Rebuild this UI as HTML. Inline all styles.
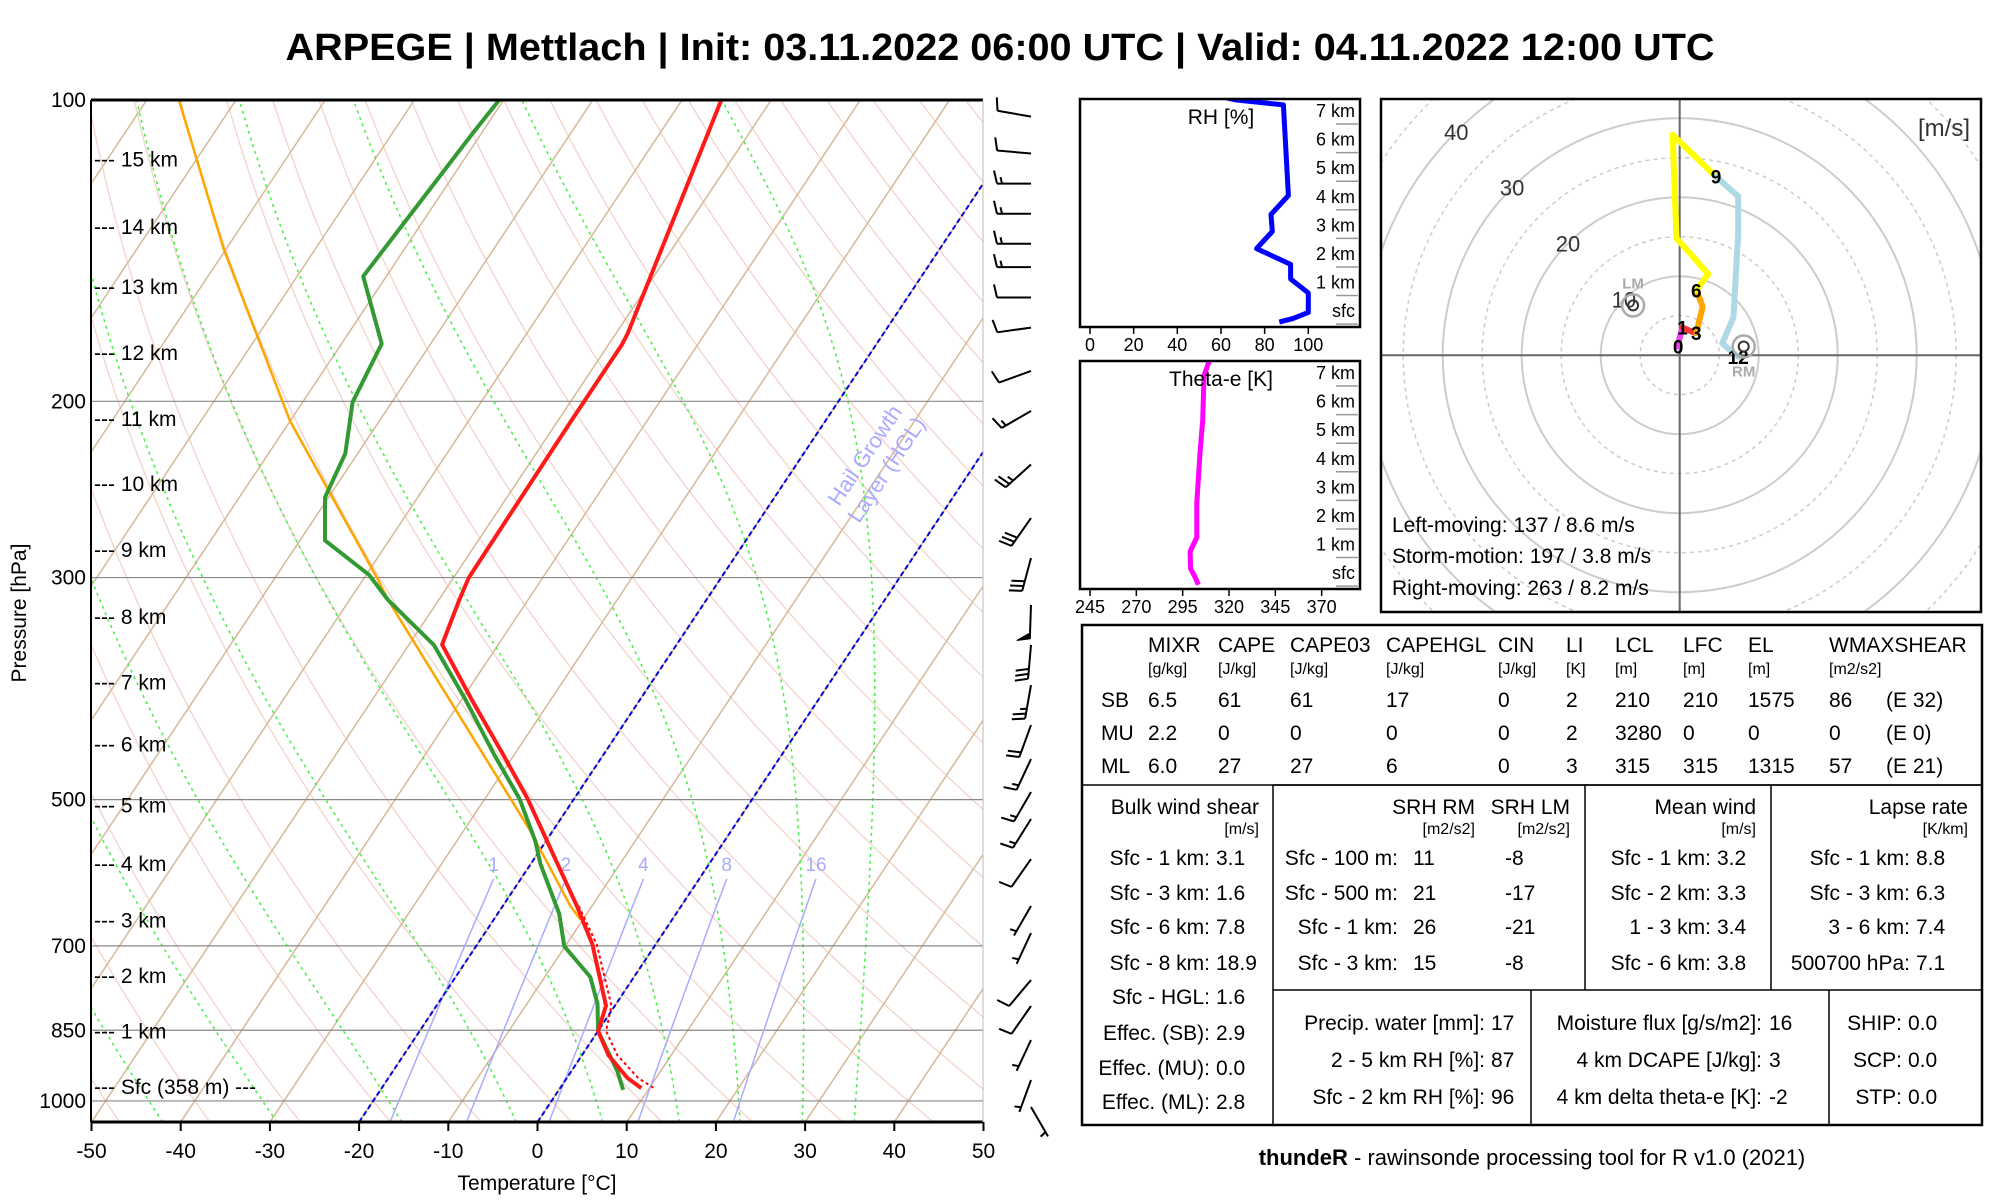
<!DOCTYPE html>
<html><head><meta charset="utf-8"><style>
html,body{margin:0;padding:0;background:#fff;}
svg{display:block;font-family:"Liberation Sans",sans-serif;}
</style></head><body>
<svg id="root" width="2000" height="1200" viewBox="0 0 2000 1200" xmlns="http://www.w3.org/2000/svg">
<defs>
<clipPath id="skclip"><rect x="91" y="100" width="892" height="1022"/></clipPath>
<clipPath id="hodoclip"><rect x="1381" y="99" width="600" height="513"/></clipPath>
<clipPath id="rhclip"><rect x="1080" y="99" width="280" height="228"/></clipPath>
<clipPath id="thclip"><rect x="1080" y="361" width="280" height="228"/></clipPath>
</defs>
<text x="1000" y="60" text-anchor="middle" font-size="38" font-weight="bold" textLength="1429" lengthAdjust="spacingAndGlyphs">ARPEGE | Mettlach | Init: 03.11.2022 06:00 UTC | Valid: 04.11.2022 12:00 UTC</text>
<g id="skew">
  <g id="bg" clip-path="url(#skclip)"></g>
  <g id="prof" clip-path="url(#skclip)"></g>
  <g id="skaxes"></g>
</g>
<g id="barbs"></g>
<g id="rhpanel"></g>
<g id="thpanel"></g>
<g id="hodo"></g>
<g id="tables" font-size="21">
  <rect x="1082" y="625" width="900" height="500" fill="none" stroke="#000" stroke-width="2.5"/>
  <line x1="1082" y1="785" x2="1982" y2="785" stroke="#000" stroke-width="1.5"/>
  <line x1="1273" y1="785" x2="1982" y2="785" stroke="#000" stroke-width="1.5"/>
  <line x1="1273" y1="990" x2="1982" y2="990" stroke="#000" stroke-width="1.5"/>
  <line x1="1273" y1="785" x2="1273" y2="1125" stroke="#000" stroke-width="1.5"/>
  <line x1="1585" y1="785" x2="1585" y2="990" stroke="#000" stroke-width="1.5"/>
  <line x1="1771" y1="785" x2="1771" y2="990" stroke="#000" stroke-width="1.5"/>
  <line x1="1531" y1="990" x2="1531" y2="1125" stroke="#000" stroke-width="1.5"/>
  <line x1="1829" y1="990" x2="1829" y2="1125" stroke="#000" stroke-width="1.5"/>
  <g>
    <text x="1148" y="652">MIXR</text><text x="1218" y="652">CAPE</text><text x="1290" y="652">CAPE03</text><text x="1386" y="652">CAPEHGL</text><text x="1498" y="652">CIN</text><text x="1566" y="652">LI</text><text x="1615" y="652">LCL</text><text x="1683" y="652">LFC</text><text x="1748" y="652">EL</text><text x="1829" y="652">WMAXSHEAR</text>
    <g font-size="16"><text x="1148" y="674">[g/kg]</text><text x="1218" y="674">[J/kg]</text><text x="1290" y="674">[J/kg]</text><text x="1386" y="674">[J/kg]</text><text x="1498" y="674">[J/kg]</text><text x="1566" y="674">[K]</text><text x="1615" y="674">[m]</text><text x="1683" y="674">[m]</text><text x="1748" y="674">[m]</text><text x="1829" y="674">[m2/s2]</text></g>
  </g>
  <g><text x="1101" y="707">SB</text><text x="1148" y="707">6.5</text><text x="1218" y="707">61</text><text x="1290" y="707">61</text><text x="1386" y="707">17</text><text x="1498" y="707">0</text><text x="1566" y="707">2</text><text x="1615" y="707">210</text><text x="1683" y="707">210</text><text x="1748" y="707">1575</text><text x="1829" y="707">86</text><text x="1886" y="707">(E 32)</text></g>
  <g><text x="1101" y="740">MU</text><text x="1148" y="740">2.2</text><text x="1218" y="740">0</text><text x="1290" y="740">0</text><text x="1386" y="740">0</text><text x="1498" y="740">0</text><text x="1566" y="740">2</text><text x="1615" y="740">3280</text><text x="1683" y="740">0</text><text x="1748" y="740">0</text><text x="1829" y="740">0</text><text x="1886" y="740">(E 0)</text></g>
  <g><text x="1101" y="773">ML</text><text x="1148" y="773">6.0</text><text x="1218" y="773">27</text><text x="1290" y="773">27</text><text x="1386" y="773">6</text><text x="1498" y="773">0</text><text x="1566" y="773">3</text><text x="1615" y="773">315</text><text x="1683" y="773">315</text><text x="1748" y="773">1315</text><text x="1829" y="773">57</text><text x="1886" y="773">(E 21)</text></g>
  <g>
    <text x="1259" y="814" text-anchor="end">Bulk wind shear</text><text x="1259" y="834" text-anchor="end" font-size="16">[m/s]</text>
    <g text-anchor="end"><text x="1210" y="865">Sfc - 1 km:</text><text x="1210" y="900">Sfc - 3 km:</text><text x="1210" y="934">Sfc - 6 km:</text><text x="1210" y="970">Sfc - 8 km:</text><text x="1210" y="1004">Sfc - HGL:</text><text x="1210" y="1040">Effec. (SB):</text><text x="1210" y="1075">Effec. (MU):</text><text x="1210" y="1109">Effec. (ML):</text></g>
    <text x="1216" y="865">3.1</text><text x="1216" y="900">1.6</text><text x="1216" y="934">7.8</text><text x="1216" y="970">18.9</text><text x="1216" y="1004">1.6</text><text x="1216" y="1040">2.9</text><text x="1216" y="1075">0.0</text><text x="1216" y="1109">2.8</text>
  </g>
  <g>
    <text x="1475" y="814" text-anchor="end">SRH RM</text><text x="1570" y="814" text-anchor="end">SRH LM</text>
    <text x="1475" y="834" text-anchor="end" font-size="16">[m2/s2]</text><text x="1570" y="834" text-anchor="end" font-size="16">[m2/s2]</text>
    <g text-anchor="end"><text x="1398" y="865">Sfc - 100 m:</text><text x="1398" y="900">Sfc - 500 m:</text><text x="1398" y="934">Sfc - 1 km:</text><text x="1398" y="970">Sfc - 3 km:</text></g>
    <text x="1413" y="865">11</text><text x="1413" y="900">21</text><text x="1413" y="934">26</text><text x="1413" y="970">15</text>
    <text x="1505" y="865">-8</text><text x="1505" y="900">-17</text><text x="1505" y="934">-21</text><text x="1505" y="970">-8</text>
  </g>
  <g>
    <text x="1756" y="814" text-anchor="end">Mean wind</text><text x="1756" y="834" text-anchor="end" font-size="16">[m/s]</text>
    <g text-anchor="end"><text x="1711" y="865">Sfc - 1 km:</text><text x="1711" y="900">Sfc - 2 km:</text><text x="1711" y="934">1 - 3 km:</text><text x="1711" y="970">Sfc - 6 km:</text></g>
    <text x="1717" y="865">3.2</text><text x="1717" y="900">3.3</text><text x="1717" y="934">3.4</text><text x="1717" y="970">3.8</text>
  </g>
  <g>
    <text x="1968" y="814" text-anchor="end">Lapse rate</text><text x="1968" y="834" text-anchor="end" font-size="16">[K/km]</text>
    <g text-anchor="end"><text x="1910" y="865">Sfc - 1 km:</text><text x="1910" y="900">Sfc - 3 km:</text><text x="1910" y="934">3 - 6 km:</text><text x="1910" y="970">500700 hPa:</text></g>
    <text x="1916" y="865">8.8</text><text x="1916" y="900">6.3</text><text x="1916" y="934">7.4</text><text x="1916" y="970">7.1</text>
  </g>
  <g>
    <g text-anchor="end"><text x="1485" y="1030">Precip. water [mm]:</text><text x="1485" y="1067">2 - 5 km RH [%]:</text><text x="1485" y="1104">Sfc - 2 km RH [%]:</text></g>
    <text x="1491" y="1030">17</text><text x="1491" y="1067">87</text><text x="1491" y="1104">96</text>
  </g>
  <g>
    <g text-anchor="end"><text x="1762" y="1030">Moisture flux [g/s/m2]:</text><text x="1762" y="1067">4 km DCAPE [J/kg]:</text><text x="1762" y="1104">4 km delta theta-e [K]:</text></g>
    <text x="1769" y="1030">16</text><text x="1769" y="1067">3</text><text x="1769" y="1104">-2</text>
  </g>
  <g>
    <g text-anchor="end"><text x="1902" y="1030">SHIP:</text><text x="1902" y="1067">SCP:</text><text x="1902" y="1104">STP:</text></g>
    <text x="1908" y="1030">0.0</text><text x="1908" y="1067">0.0</text><text x="1908" y="1104">0.0</text>
  </g>
</g>
<text x="1532" y="1165" text-anchor="middle" font-size="22"><tspan font-weight="bold">thundeR</tspan> - rawinsonde processing tool for R v1.0 (2021)</text>
</svg>
<script>
// ---------- Skew-T data ----------
const tempP = [100,149.7,170.9,175.5,207.4,300,315.8,350,397.1,451.2,499.2,544.9,638.6,697.6,803.2,851.5,900.7,948.7,971];
const tempT = [-55.6,-50.4,-48.7,-48.5,-48.5,-48.3,-47.7,-46.3,-38.9,-31.2,-25.2,-20.4,-11.7,-7.1,-1.0,0.0,3.0,6.8,9.1];
const dewP = [100,108.1,150,175.2,200.4,225.5,249.5,275.4,298.1,315.8,350.3,397.1,451.2,499.2,550.1,579.9,650.1,700.7,751.9,799.6,851.5,932.9,975];
const dewT = [-80.5,-81.0,-82.6,-75.5,-74.4,-71.4,-70.4,-67.2,-59.7,-55.7,-47.2,-39.6,-32.2,-26.1,-21.2,-18.9,-13.1,-10.1,-4.9,-2.1,0.0,5.1,7.2];
const parcelP = [100,140.8,209.3,245.2,300,315.8,535.7,638.9,658.8];
const parcelT = [-116.4,-100.3,-80.0,-70.6,-58.6,-55.7,-22.7,-12.4,-10.3];
const virtP = [638.6,697.6,803.2,851.5,900.7,948.7,971];
const virtT = [-11.5,-6.6,-0.4,0.9,4.0,8.0,10.5];
const pressTicks = [100,200,300,500,700,850,1000];
const tempTicks = [-50,-40,-30,-20,-10,0,10,20,30,40,50];
const heightLabels = ["15 km","14 km","13 km","12 km","11 km","10 km","9 km","8 km","7 km","6 km","5 km","4 km","3 km","2 km","1 km","Sfc (358 m) ---"];
const heightP = [114.7,134.0,153.8,178.9,208.3,241.9,281.6,328.3,381.7,440.3,506.8,579.8,660.6,750.6,852.0,967.9];
const mixRatios = [1,2,4,8,16];
const moistStartT = [-42,-29.2,-15.2,-2.4,7.3,15.9,22.7,29.7,35.5];
const hglIsotherms = [-20,0];
// wind barbs
const barbP = [103.9,113.1,121.2,129.9,139.2,146.9,157.5,168.8,186.5,204.5,231.3,261.6,286.8,319.5,350.3,384.2,421.2,455.4,491.3,522.8,573.2,638.7,679.6,757.1,803.8,869.2,953,1014];
const barbDir = [280,275,270,270,270,270,270,262,250,240,228,215,195,182,185,190,200,205,210,212,215,210,205,220,215,205,200,150];
const barbSpd = [10,10,15,15,15,15,10,10,10,15,25,30,30,50,30,25,20,15,15,15,10,5,5,10,10,5,5,3];
// RH / theta-e profiles
const rhH = [0,0.13,0.34,1.02,1.51,2.02,2.57,3.17,3.77,4.43,7.6,7.77,8.2];
const rhV = [86.7,93.1,100,100,91.9,91.9,76.3,83.5,82.9,90.9,88.6,67.2,40];
const rhTicks = [0,20,40,60,80,100];
const thH = [-0.02,0.24,0.54,1.14,1.63,2.83,4.64,5.72,7.29,7.9];
const thV = [303.5,301.7,299.3,299.0,302.6,302.6,304.4,305.8,306.5,309.8];
const thTicks = [245,270,295,320,345,370];
const panelLevels = ["sfc","1 km","2 km","3 km","4 km","5 km","6 km","7 km"];
// hodograph
const hodoH = [0,0.5,1,2,3,4,5,6,6.5,7,8,9,9.5,10,11,11.5,12];
const hodoU = [-0.2,0.0,0.35,1.5,2.1,2.9,2.6,2.1,3.6,-0.4,-0.9,4.6,7.4,7.4,6.8,5.4,7.4];
const hodoV = [1.1,2.2,3.5,3.0,2.8,6.1,7.0,8.2,10.3,14.8,27.9,22.6,20.1,15.3,4.8,1.5,-0.2];
const hodoLabelH = [0,1,3,6,9,12];
const hodoRings = [10,20,30,40,50,60,70];
const stormU = [-5.9,8.1];
const stormV = [6.3,1.1];
const stormNames = ["LM","RM"];

const NS = "http://www.w3.org/2000/svg";
function mk(tag, attrs, parent){ const e=document.createElementNS(NS,tag); for(const k in attrs) e.setAttribute(k,attrs[k]); if(parent) parent.appendChild(e); return e; }

// axis functions
const yP = p => 100 + 434.7*Math.log(p/100);
const xT = (T,p) => 537.6 + 8.92*T + 0.665*(1122 - yP(p));
function pathPT(ps, ts){ return ps.map((p,i)=>(i?'L':'M')+xT(ts[i],p).toFixed(1)+','+yP(p).toFixed(1)).join(''); }

const bg = document.getElementById('bg');
// dry adiabats
for(let th=173.15; th<=483.15; th+=10){
  const ps=[],ts=[]; for(let p=1050;p>=100;p-=10){ps.push(p);ts.push(th*Math.pow(p/1000,0.286)-273.15);}
  const e=mk('path',{d:pathPT(ps,ts),fill:'none',stroke:'#f2d3cb','stroke-width':1.3},bg);
  
  
}
// isotherms
for(let T=-180; T<=50; T+=10){
  const e=mk('path',{d:pathPT([1050,100],[T,T]),fill:'none',stroke:'#d6b896','stroke-width':1.5},bg);
  
  
}
// moist adiabats
function es(Tc){return 6.112*Math.exp(17.67*Tc/(Tc+243.5));}
moistStartT.forEach(T0=>{
  let T=T0+273.15; const ps=[],ts=[];
  for(let p=1050;p>=100;p-=2){
    ps.push(p); ts.push(T-273.15);
    const e_=es(T-273.15), rs=0.622*e_/(p-e_);
    const dTdp=(287*T+2.5e6*rs)/(p*(1005+2.5e6*2.5e6*rs*0.622/(287*T*T)));
    T -= dTdp*2;
  }
  const e=mk('path',{d:pathPT(ps,ts),fill:'none',stroke:'#44ee44','stroke-width':1.5,'stroke-dasharray':'3,4'},bg);
  
  
});
// pressure lines
pressTicks.filter(p=>p>100).forEach(p=>{
  const e=mk('line',{x1:91,x2:983,y1:yP(p),y2:yP(p),stroke:'#888','stroke-width':1.2},bg);
  
  
});
// mixing ratio lines
function tdFromR(r,p){const e_=r/1000*p/(0.622+r/1000); const l=Math.log(e_/6.112); return 243.5*l/(17.67-l);}
mixRatios.forEach(r=>{
  const ps=[],ts=[]; for(let p=1050;p>=600;p-=10){ps.push(p);ts.push(tdFromR(r,p));}
  const e=mk('path',{d:pathPT(ps,ts),fill:'none',stroke:'#aaaaff','stroke-width':1.5},bg);
  
  
  const t=mk('text',{x:xT(tdFromR(r,600),600),y:yP(600)-8,'text-anchor':'middle','font-size':19,fill:'#aaaaff'},bg);
  t.textContent=r;
  
  
});
// HGL isotherms
hglIsotherms.forEach(T=>{
  const e=mk('path',{d:pathPT([1050,100],[T,T]),fill:'none',stroke:'#0000dd','stroke-width':2,'stroke-dasharray':'5,3'},bg);
  
  
});
const hgl=mk('text',{x:881,y:466,'text-anchor':'middle','font-size':22,fill:'#aaaaff',transform:'rotate(-56.3 881 466)'},bg);


mk('tspan',{x:881,dy:-12},hgl).textContent='Hail Growth';
mk('tspan',{x:881,dy:26},hgl).textContent='Layer (HGL)';

// profiles
const prof=document.getElementById('prof');
let e;
e=mk('path',{d:pathPT(parcelP,parcelT),fill:'none',stroke:'#ffa500','stroke-width':2.5},prof);


e=mk('path',{d:pathPT(virtP,virtT),fill:'none',stroke:'#ff0000','stroke-width':2,'stroke-dasharray':'3,3'},prof);


e=mk('path',{d:pathPT(dewP,dewT),fill:'none',stroke:'#339933','stroke-width':4,'stroke-linejoin':'round'},prof);


e=mk('path',{d:pathPT(tempP,tempT),fill:'none',stroke:'#ff1a1a','stroke-width':4,'stroke-linejoin':'round'},prof);



// axes
const ax=document.getElementById('skaxes');
mk('line',{x1:91,x2:983,y1:100,y2:100,stroke:'#000','stroke-width':3},ax);
mk('line',{x1:91,x2:983,y1:1122,y2:1122,stroke:'#000','stroke-width':3},ax);
mk('line',{x1:91,x2:91,y1:100,y2:1122,stroke:'#000','stroke-width':2},ax);
mk('line',{x1:983,x2:983,y1:100,y2:1122,stroke:'#bbb','stroke-width':1},ax);
tempTicks.forEach(T=>{
  const x=xT(T,1050);
  mk('line',{x1:x,x2:x,y1:1122,y2:1131,stroke:'#000','stroke-width':2},ax);
  const t=mk('text',{x:x,y:1158,'text-anchor':'middle','font-size':21},ax);
  t.textContent=T;
  
  
});
pressTicks.forEach(p=>{
  const t=mk('text',{x:86,y:yP(p)+7,'text-anchor':'end','font-size':21},ax);
  t.textContent=p;
  
  
});
heightLabels.forEach((l,i)=>{
  const t=mk('text',{x:94,y:yP(heightP[i])+7,'font-size':21},ax);
  t.textContent='--- '+l;
  
  
});
e=mk('text',{x:537,y:1190,'text-anchor':'middle','font-size':21},ax); e.textContent='Temperature [°C]';


e=mk('text',{x:26,y:613,'text-anchor':'middle','font-size':21,transform:'rotate(-90 26 613)'},ax); e.textContent='Pressure [hPa]';



// barbs
const bgp=document.getElementById('barbs');
barbP.forEach((p,i)=>{
  const x0=1031,y0=yP(p),d=barbDir[i]*Math.PI/180;
  const s=[Math.sin(d),-Math.cos(d)], b=[-s[1],s[0]], L=34;
  const tx=x0+s[0]*L, ty=y0+s[1]*L;
  const g=mk('g',{stroke:'#000','stroke-width':2,fill:'#000'},bgp);
  
  
  mk('line',{x1:x0,y1:y0,x2:tx,y2:ty},g);
  let spd=Math.round(barbSpd[i]/5)*5, pos=0;
  const bl=13;
  while(spd>=50){ const ax_=tx-s[0]*pos, ay=ty-s[1]*pos;
    mk('polygon',{points:`${ax_},${ay} ${ax_+b[0]*bl+s[0]*2},${ay+b[1]*bl+s[1]*2} ${ax_-s[0]*6},${ay-s[1]*6}`,'stroke-width':1},g); pos+=8; spd-=50; }
  while(spd>=10){ const ax_=tx-s[0]*pos, ay=ty-s[1]*pos;
    mk('line',{x1:ax_,y1:ay,x2:ax_+b[0]*bl+s[0]*3,y2:ay+b[1]*bl+s[1]*3},g); pos+=5; spd-=10; }
  if(spd>=5){ if(pos===0) pos=5; const ax_=tx-s[0]*pos, ay=ty-s[1]*pos;
    mk('line',{x1:ax_,y1:ay,x2:ax_+b[0]*bl/2+s[0]*1.5,y2:ay+b[1]*bl/2+s[1]*1.5},g); }
});

// small panels
function panel(gid, top, clip, xs, hs, xmap, ticks, title, col, nameLine){
  const g=document.getElementById(gid);
  const ymap = h => top+223.1 - 28.58*h;
  const d=hs.map((h,i)=>(i?'L':'M')+xmap(xs[i]).toFixed(1)+','+ymap(h).toFixed(1)).join('');
  const l=mk('path',{d:d,fill:'none',stroke:col,'stroke-width':5,'stroke-linejoin':'round','clip-path':`url(#${clip})`},g);
  
  
  mk('rect',{x:1080,y:top,width:280,height:228,fill:'none',stroke:'#000','stroke-width':2.5},g);
  const t=mk('text',{x:1221,y:top+25,'text-anchor':'middle','font-size':21},g); t.textContent=title;
  
  
  panelLevels.forEach((lv,i)=>{
    const y=ymap(i);
    mk('line',{x1:1336,x2:1358,y1:y+2,y2:y+2,stroke:'#999','stroke-width':1.5},g);
    const tt=mk('text',{x:1355,y:y-5,'text-anchor':'end','font-size':18},g); tt.textContent=lv;
    
    
  });
  ticks.forEach(v=>{
    const x=xmap(v);
    mk('line',{x1:x,x2:x,y1:top+228,y2:top+235,stroke:'#000','stroke-width':1.5},g);
    const tt=mk('text',{x:x,y:top+252,'text-anchor':'middle','font-size':18},g); tt.textContent=v;
    
    
  });
}
panel('rhpanel',99,'rhclip',rhV,rhH,v=>1090+2.183*v,rhTicks,'RH [%]','#0000ff','rh-line');
panel('thpanel',361,'thclip',thV,thH,v=>1090+1.8533*(v-245),thTicks,'Theta-e [K]','#ff00ff','theta-e-line');

// hodograph
const hg=document.getElementById('hodo');
const cx=1679.7, cy=355.2, sc=7.9;
const hx=u=>cx+u*sc, hy=v=>cy-v*sc;
const hc=mk('g',{'clip-path':'url(#hodoclip)'},hg);
hodoRings.forEach(r=>{
  mk('circle',{cx:cx,cy:cy,r:r*sc,fill:'none',stroke:'#cccccc','stroke-width':2},hc);
  mk('circle',{cx:cx,cy:cy,r:(r-5)*sc,fill:'none',stroke:'#cccccc','stroke-width':1.5,'stroke-dasharray':'4,4'},hc);
});
mk('line',{x1:1381,x2:1981,y1:cy,y2:cy,stroke:'#666','stroke-width':2},hc);
mk('line',{x1:cx,x2:cx,y1:99,y2:612,stroke:'#666','stroke-width':2},hc);
hodoRings.slice(0,4).forEach(r=>{
  const a=Math.PI*0.75, x=cx+Math.cos(a)*r*sc*1.0, y=cy-Math.sin(a)*r*sc;
  const t=mk('text',{x:x,y:y+8,'text-anchor':'middle','font-size':22,fill:'#333'},hg); t.textContent=r;
  
  
});
function segColor(h){ return h<1?'#ee44ee':h<3?'#ff3333':h<6?'#ffa500':h<9?'#ffff00':'#add8e6'; }
for(let i=0;i<hodoH.length-1;i++){
  const s=mk('line',{x1:hx(hodoU[i]),y1:hy(hodoV[i]),x2:hx(hodoU[i+1]),y2:hy(hodoV[i+1]),stroke:segColor(hodoH[i]),'stroke-width':6,'stroke-linecap':'round'},hc);
  
  
}
hodoLabelH.forEach(h=>{
  const i=hodoH.indexOf(h);
  const t=mk('text',{x:hx(hodoU[i]),y:hy(hodoV[i])+7,'text-anchor':'middle','font-size':19,'font-weight':'bold'},hg); t.textContent=h;
  
  
});
stormU.forEach((u,i)=>{
  const c=mk('circle',{cx:hx(u),cy:hy(stormV[i]),r:11,fill:'none',stroke:'#aaa','stroke-width':2.5},hg);
  
  
  mk('circle',{cx:hx(u),cy:hy(stormV[i]),r:5,fill:'none',stroke:'#333','stroke-width':2},hg);
  const t=mk('text',{x:hx(u),y:hy(stormV[i])+(i===0?-17:30),'text-anchor':'middle','font-size':15,'font-weight':'bold',fill:'#aaa'},hg); t.textContent=stormNames[i];
  
  
});
mk('rect',{x:1381,y:99,width:600,height:513,fill:'none',stroke:'#000','stroke-width':2.5},hg);
e=mk('text',{x:1970,y:136,'text-anchor':'end','font-size':24,fill:'#333'},hg); e.textContent='[m/s]';


[['Left-moving: 137 / 8.6 m/s',532],['Storm-motion: 197 / 3.8 m/s',563],['Right-moving: 263 / 8.2 m/s',595]].forEach(a=>{
  const t=mk('text',{x:1392,y:a[1],'font-size':21},hg); t.textContent=a[0];
  
  
});
</script>
</body></html>
